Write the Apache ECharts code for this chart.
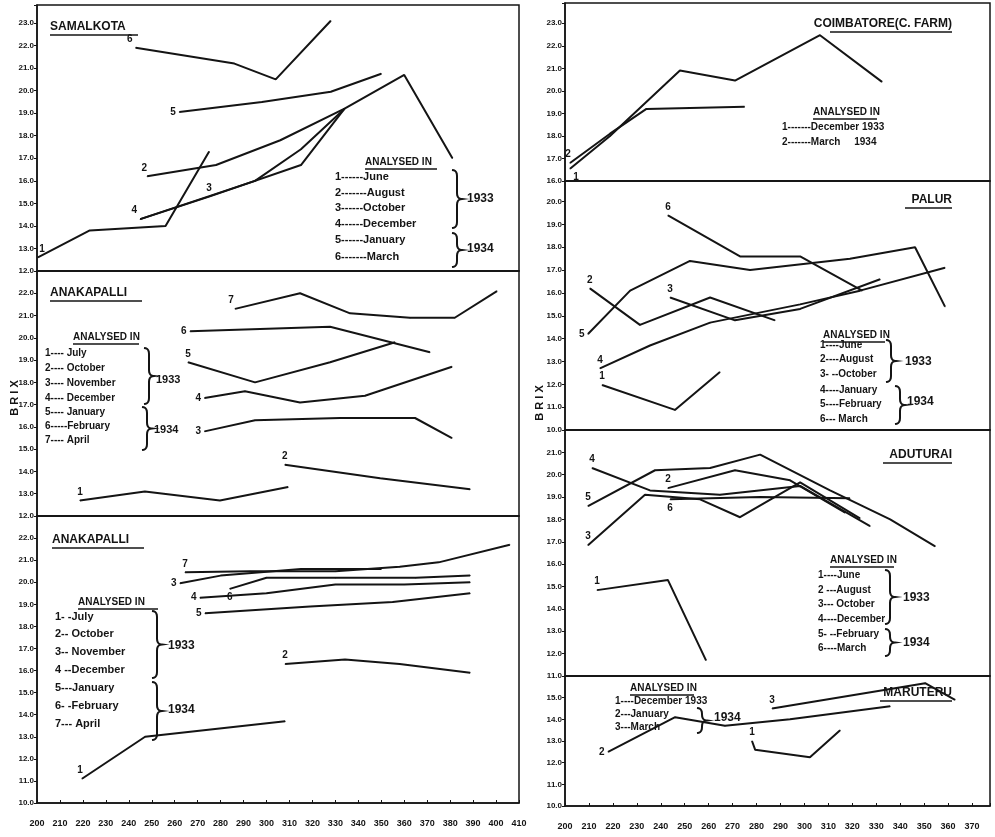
<!DOCTYPE html>
<html><head><meta charset="utf-8">
<script src="https://cdn.jsdelivr.net/npm/echarts@6/dist/echarts.min.js"></script>
<style>html,body{margin:0;padding:0;background:#fff}#c{width:995px;height:837px}</style>
</head><body><div id="c"></div>
<script>
// ---- tick labels ----
const xTicksLeft = [200,210,220,230,240,250,260,270,280,290,300,310,320,330,340,350,360,370,380,390,400,410];
const xTicksRight = [200,210,220,230,240,250,260,270,280,290,300,310,320,330,340,350,360,370];
const yTicksSam = [12,13,14,15,16,17,18,19,20,21,22,23];
const yTicksAna = [12,13,14,15,16,17,18,19,20,21,22];
const yTicksAnb = [10,11,12,13,14,15,16,17,18,19,20,21,22];
const yTicksCoi = [16,17,18,19,20,21,22,23];
const yTicksPal = [10,11,12,13,14,15,16,17,18,19,20];
const yTicksAdu = [11,12,13,14,15,16,17,18,19,20,21];
const yTicksMar = [10,11,12,13,14,15];

// ---- SAMALKOTA ----
const sam1 = [[200.4,12.6],[223,13.8],[256,14.0],[275,17.3]];
const sam2 = [[248,16.2],[278,16.7],[306,17.8],[334,19.2]];
const sam3 = [[245,14.3],[275,15.3],[315,16.7],[334,19.2]];
const sam4 = [[245,14.3],[295,16.0],[315,17.4],[334,19.2],[360,20.7],[381,17.0]];
const sam5 = [[262,19.05],[298,19.5],[328,19.95],[350,20.75]];
const sam6 = [[243,21.9],[286,21.2],[304,20.5],[328,23.1]];
// ---- ANAKAPALLI (upper) ----
const ana1 = [[218.7,12.7],[247,13.1],[279.7,12.7],[309.4,13.3]];
const ana2 = [[308,14.3],[349.5,13.7],[388.7,13.2]];
const ana3 = [[273,15.8],[295,16.3],[332,16.4],[364.7,16.4],[380.8,15.5]];
const ana4 = [[273,17.3],[290.6,17.6],[314.6,17.1],[342.9,17.4],[380.8,18.7]];
const ana5 = [[265.8,18.9],[295,18.0],[327.7,18.9],[356,19.8]];
const ana6 = [[266.7,20.3],[327.7,20.5],[371.2,19.35]];
const ana7 = [[286.3,21.3],[314.6,22.0],[336.4,21.1],[362.5,20.9],[382,20.9],[400.4,22.1]];
// ---- ANAKAPALLI (lower) ----
const anb1 = [[219.6,11.1],[247.1,13.0],[308.1,13.7]];
const anb2 = [[308.1,16.3],[334.2,16.5],[358,16.3],[388.7,15.9]];
const anb3 = [[262.3,19.95],[280,20.3],[315,20.6],[350,20.6]];
const anb4 = [[271,19.3],[300,19.5],[330,19.9],[360,19.9],[388.7,20.0]];
const anb5 = [[273.2,18.6],[319,18.9],[355,19.1],[388.7,19.5]];
const anb6 = [[284,19.7],[300,20.2],[330,20.2],[365,20.2],[388.7,20.3]];
const anb7 = [[264.5,20.45],[292.8,20.5],[330,20.5],[358,20.7],[375,20.9],[406,21.7]];
// ---- COIMBATORE ----
const coi1 = [[202.1,16.54],[218.8,18.0],[248,20.9],[271,20.46],[306.5,22.47],[332.4,20.4]];
const coi2 = [[202.1,16.8],[218.8,18.1],[234,19.2],[275,19.3]];
// ---- PALUR ----
const pal1 = [[215.5,11.97],[245.9,10.88],[264.7,12.54]];
const pal2 = [[210.4,16.2],[231.3,14.6],[260.6,15.8],[287.7,14.8]];
const pal3 = [[243.9,15.8],[271,14.8],[298.2,15.3],[331.6,16.6]];
const pal4 = [[214.6,12.7],[235.5,13.7],[260.6,14.7],[298.2,15.5],[323.2,16.1],[358.7,17.1]];
const pal5 = [[209.6,14.2],[227.2,16.1],[252.2,17.4],[277.3,17.0],[319,17.5],[346.2,18.0],[358.7,15.4]];
const pal6 = [[243,19.4],[273.1,17.6],[298.2,17.6],[324.1,16.1]];
// ---- ADUTURAI ----
const adu1 = [[213.4,14.84],[243,15.29],[258.9,11.7]];
const adu2 = [[243,19.4],[271,20.2],[294,19.75],[317,18.3]];
const adu3 = [[209.6,16.85],[233.4,19.1],[256.4,18.9],[273.1,18.1],[298.2,19.66],[323.2,18.05]];
const adu4 = [[211.3,20.3],[235.5,19.3],[264.7,19.1],[298.2,19.5],[327.4,17.7]];
const adu5 = [[209.6,18.6],[237.6,20.2],[260.6,20.3],[281.5,20.9],[310.7,19.3],[335.8,18.0],[354.6,16.8]];
const adu6 = [[243.9,18.9],[281.5,19.0],[319,18.95]];
// ---- MARUTERU ----
const mar1 = [[278.1,13.0],[279.4,12.6],[302.3,12.25],[314.9,13.5]];
const mar2 = [[218,12.5],[246,14.1],[266.8,13.7],[294,14.0],[335.8,14.6]];
const mar3 = [[286.5,14.5],[350.4,15.67],[362.9,14.9]];

const INK = '#141414';
const FONT = "'Liberation Sans', Arial, sans-serif";

const grids = [
  {left:37, top:5, width:482, height:266},
  {left:37, top:271, width:482, height:245},
  {left:37, top:516, width:482, height:287},
  {left:565, top:3, width:425, height:178},
  {left:565, top:181, width:425, height:249},
  {left:565, top:430, width:425, height:246},
  {left:565, top:676, width:425, height:130}
];
const yRanges = [[12,23.8,yTicksSam],[12,23,yTicksAna],[10,23,yTicksAnb],[16,23.9,yTicksCoi],[10,20.9,yTicksPal],[11,22,yTicksAdu],[10,16,yTicksMar]];
const xRanges = [[200,410,xTicksLeft],[200,410,xTicksLeft],[200,410,xTicksLeft],[200,377.5,xTicksRight],[200,377.5,xTicksRight],[200,377.5,xTicksRight],[200,377.5,xTicksRight]];
const bottomGrid = [false,false,true,false,false,false,true];

const xAxes = xRanges.map((r,i)=>({
  type:'value', gridIndex:i, min:r[0], max:r[1], interval:10,
  axisLine:{show:true, onZero:false, lineStyle:{color:INK, width:1.5}},
  axisTick:{show:bottomGrid[i], inside:true, length:3, lineStyle:{color:INK}},
  splitLine:{show:false},
  axisLabel:{show:bottomGrid[i], color:INK, fontSize:9, fontWeight:'bold', fontFamily:FONT, margin:16,
    formatter:v=>r[2].includes(v)?String(v):''}
}));
const yAxes = yRanges.map((r,i)=>({
  type:'value', gridIndex:i, min:r[0], max:r[1], interval:1,
  axisLine:{show:true, onZero:false, lineStyle:{color:INK, width:1.5}},
  axisTick:{show:true, length:3, lineStyle:{color:INK}},
  splitLine:{show:false},
  axisLabel:{color:INK, fontSize:8, fontWeight:'bold', fontFamily:FONT, margin:3,
    formatter:v=>r[2].includes(v)?v.toFixed(1):''}
}));

function mk(data, lbl, gi, pos, idx, off){
  idx = idx||0;
  return {type:'line', xAxisIndex:gi, yAxisIndex:gi, silent:true, animation:false,
    symbol:'circle', symbolSize:1, showSymbol:true,
    lineStyle:{color:INK, width:2}, itemStyle:{color:INK},
    label:{show:false},
    data:data.map((p,i)=> i===idx ? {value:p, label:{show:true, formatter:lbl, position:pos||'left',
      offset:off||[0,0], color:INK, fontSize:10, fontWeight:'bold', fontFamily:FONT, distance:3}} : p)};
}

const series = [
  mk(sam1,'1',0,'top',0,[4,0]), mk(sam2,'2',0,'top',0,[-3,0]), mk(sam3,'3',0,'top',1,[0,0]),
  mk(sam4,'4',0,'top',0,[-6,0]), mk(sam5,'5',0,'left'), mk(sam6,'6',0,'top',0,[-6,0]),
  mk(ana1,'1',1,'top'), mk(ana2,'2',1,'top'), mk(ana3,'3',1,'left'), mk(ana4,'4',1,'left'),
  mk(ana5,'5',1,'top'), mk(ana6,'6',1,'left'), mk(ana7,'7',1,'top',0,[-4,0]),
  mk(anb1,'1',2,'top',0,[-2,0]), mk(anb2,'2',2,'top'), mk(anb3,'3',2,'left'), mk(anb4,'4',2,'left'),
  mk(anb5,'5',2,'left'), mk(anb6,'6',2,'bottom'), mk(anb7,'7',2,'top'),
  mk(coi1,'1',3,'bottom',0,[6,0]), mk(coi2,'2',3,'top',0,[-2,0]),
  mk(pal1,'1',4,'top'), mk(pal2,'2',4,'top'), mk(pal3,'3',4,'top'), mk(pal4,'4',4,'top'),
  mk(pal5,'5',4,'left'), mk(pal6,'6',4,'top'),
  mk(adu1,'1',5,'top'), mk(adu2,'2',5,'top'), mk(adu3,'3',5,'top'), mk(adu4,'4',5,'top'),
  mk(adu5,'5',5,'top'), mk(adu6,'6',5,'bottom'),
  mk(mar1,'1',6,'top'), mk(mar2,'2',6,'left'), mk(mar3,'3',6,'top')
];

// ---- graphic: titles, legends, braces ----
const g = [];
function txt(x,y,s,size,align,extra){
  g.push(Object.assign({type:'text', x:x, y:y, silent:true,
    style:{text:s, fill:INK, font:'bold '+(size||11)+'px '+FONT, textAlign:align||'left', textVerticalAlign:'middle'}}, extra||{}));
}
function uline(x1,x2,y){ g.push({type:'line', silent:true, shape:{x1:x1,y1:y,x2:x2,y2:y}, style:{stroke:INK, lineWidth:1.6}}); }
function brace(x,y1,y2){
  const w=5, ym=(y1+y2)/2, r=Math.min(6,(y2-y1)/4);
  const pts=[];
  function q(x0,y0,cx,cy,x1,y1){ for(let t=0;t<=1.0001;t+=0.2){ pts.push([(1-t)*(1-t)*x0+2*t*(1-t)*cx+t*t*x1,(1-t)*(1-t)*y0+2*t*(1-t)*cy+t*t*y1]); } }
  q(x,y1,x+w,y1,x+w,y1+r);
  q(x+w,ym-r,x+w,ym,x+2*w,ym);
  q(x+2*w,ym,x+w,ym,x+w,ym+r);
  q(x+w,y2-r,x+w,y2,x,y2);
  g.push({type:'polyline', silent:true, shape:{points:pts}, style:{stroke:INK, fill:null, lineWidth:2}});
}
function title(x,y,s,w){ txt(x,y,s,12,'left'); uline(x,x+w,y+8); }
function header(x,y,w){ txt(x,y,'ANALYSED IN',10,'left'); uline(x,x+w,y+7); }

title(50,27,'SAMALKOTA',88);
title(50,293,'ANAKAPALLI',92);
title(52,540,'ANAKAPALLI',92);
txt(952,24,'COIMBATORE(C. FARM)',12,'right'); uline(830,952,32);
txt(952,200,'PALUR',12,'right'); uline(905,952,208);
txt(952,455,'ADUTURAI',12,'right'); uline(883,952,463);
txt(952,693,'MARUTERU',12,'right'); uline(880,952,701);

header(365,162,72);
const samRows = ['1------June','2-------August','3------October','4------December','5------January','6-------March'];
const samY = [177,193,208,224,240,257];
samRows.forEach((s,i)=>txt(335,samY[i],s,11));
brace(452,170,228); txt(467,199,'1933',12);
brace(452,233,267); txt(467,249,'1934',12);

header(73,337,66);
const anaRows = ['1---- July','2---- October','3---- November','4---- December','5---- January','6-----February','7---- April'];
const anaY = [353,368,383,398,412,426,440];
anaRows.forEach((s,i)=>txt(45,anaY[i],s,10));
brace(144,348,404); txt(156,380,'1933',11);
brace(142,407,450); txt(154,430,'1934',11);

header(78,602,80);
const anbRows = ['1- -July','2-- October','3-- November','4 --December','5---January','6- -February','7--- April'];
const anbY = [617,634,652,670,688,706,724];
anbRows.forEach((s,i)=>txt(55,anbY[i],s,11));
brace(152,611,678); txt(168,646,'1933',12);
brace(152,682,740); txt(168,710,'1934',12);

header(813,112,64);
txt(782,127,'1-------December 1933',10);
txt(782,142,'2-------March     1934',10);

header(823,335,62);
const palRows = ['1----June','2----August','3- --October','4----January','5----February','6--- March'];
const palY = [345,359,374,390,404,419];
palRows.forEach((s,i)=>txt(820,palY[i],s,10));
brace(886,340,382); txt(905,362,'1933',12);
brace(895,386,424); txt(907,402,'1934',12);

header(830,560,64);
const aduRows = ['1----June','2 ---August','3--- October','4----December','5- --February','6----March'];
const aduY = [575,590,604,619,634,648];
aduRows.forEach((s,i)=>txt(818,aduY[i],s,10));
brace(885,570,624); txt(903,598,'1933',12);
brace(885,629,656); txt(903,643,'1934',12);

header(630,688,64);
txt(615,701,'1----December 1933',10);
txt(615,714,'2---January',10);
txt(615,727,'3---March',10);
brace(697,708,733); txt(714,718,'1934',12);

txt(15,398,'B R I X',11,'center',{rotation:Math.PI/2});
txt(540,403,'B R I X',11,'center',{rotation:Math.PI/2});

const chart = echarts.init(document.getElementById('c'), null, {renderer:'canvas'});
chart.setOption({
  backgroundColor:'#fff', animation:false,
  grid: grids.map(gr=>Object.assign({show:true, borderColor:INK, borderWidth:1.5, containLabel:false}, gr)),
  xAxis:xAxes, yAxis:yAxes, series:series, graphic:g
});
</script></body></html>
